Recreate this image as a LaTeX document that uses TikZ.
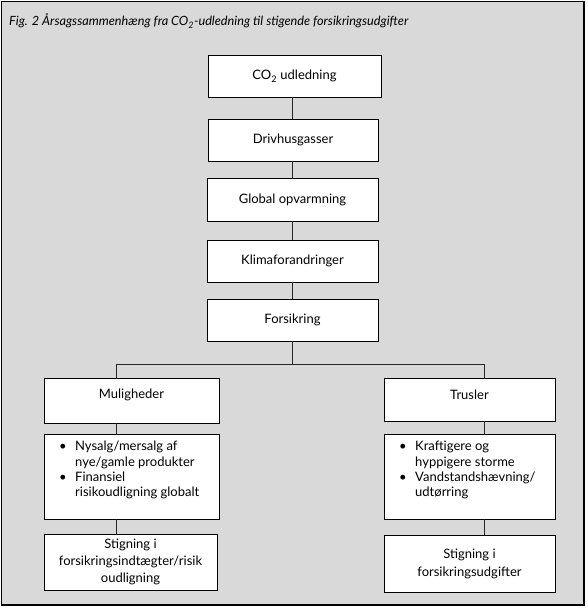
\documentclass[tikz,border=0pt]{standalone}
\usepackage{fontspec}
\setmainfont{Lato}
\usetikzlibrary{calc}
\definecolor{bggray}{HTML}{D9D9D9}
\tikzset{
  box/.style={draw=black, line width=0.9pt, fill=white, inner sep=0pt, font=\fontsize{13}{16}\selectfont},
  conn/.style={draw=black!85, line width=0.9pt},
  txt/.style={inner sep=0pt, font=\fontsize{13}{15}\selectfont},
}
\begin{document}
\begin{tikzpicture}[x=1pt,y=-1pt]
\useasboundingbox (0,0) rectangle (587,608);
\draw[line width=1.2pt, fill=bggray] (1.5,1.5) rectangle (584,605);
\node[txt, anchor=west, font=\fontsize{12.7}{14}\selectfont\itshape] (title) at (9,21) {Fig. 2 Årsagssammenhæng fra CO\textsubscript{2}-udledning til stigende forsikringsudgifter};

\node[box, minimum width=173pt, minimum height=42pt] (co2) at (294.5,76) {CO\textsubscript{2} udledning};
\node[box, minimum width=170pt, minimum height=42pt] (driv) at (293,140) {Drivhusgasser};
\node[box, minimum width=171pt, minimum height=43pt] (glob) at (292.5,199.5) {Global opvarmning};
\node[box, minimum width=171pt, minimum height=42pt] (klima) at (292.5,261) {Klimaforandringer};
\node[box, minimum width=171pt, minimum height=42pt] (fors) at (292.5,320) {Forsikring};

\node[box, minimum width=175pt, minimum height=45pt] (mul) at (131.5,400.5) {};
\node[txt] (multxt) at (131.5,395) {Muligheder};
\node[box, minimum width=175pt, minimum height=85pt] (mulb) at (131.5,476.5) {};
\node[txt, anchor=north west, align=left] (mulbt) at (59,441) {\makebox[16pt][l]{•}Nysalg/mersalg af\\[1pt]\hspace*{16pt}nye/gamle produkter\\\makebox[16pt][l]{•}Finansiel\\\hspace*{16pt}risikoudligning globalt};
\node[box, minimum width=173pt, minimum height=56pt, align=center, font=\fontsize{13}{17}\selectfont] (muls) at (130.5,562) {Stigning i\\forsikringsindtægter/risik\\oudligning};

\node[box, minimum width=171pt, minimum height=43pt] (tru) at (469.5,399.5) {};
\node[txt] (trutxt) at (469.5,395) {Trusler};
\node[box, minimum width=171pt, minimum height=85pt] (trub) at (469.5,476.5) {};
\node[txt, anchor=north west, align=left] (trubt) at (399,441) {\makebox[16pt][l]{•}Kraftigere og\\[1pt]\hspace*{16pt}hyppigere storme\\\makebox[16pt][l]{•}Vandstandshævning/\\\hspace*{16pt}udtørring};
\node[box, minimum width=171pt, minimum height=57pt, align=center, font=\fontsize{13}{18}\selectfont] (trus) at (469.5,563.5) {Stigning i\\forsikringsudgifter};

\coordinate (jm) at (292,364);
\coordinate (jl) at (116,364);
\coordinate (jr) at (484,364);

\draw[conn] (co2.south -| jm) -- (driv.north -| jm);
\draw[conn] (driv.south -| jm) -- (glob.north -| jm);
\draw[conn] (glob.south -| jm) -- (klima.north -| jm);
\draw[conn] (klima.south -| jm) -- (fors.north -| jm);
\draw[conn] (fors.south -| jm) -- (jm);
\draw[conn] (jl) -- (jr);
\draw[conn] (jl) -- (mul.north -| jl);
\draw[conn] (jr) -- (tru.north -| jr);
\draw[conn] (mul.south -| jl) -- (mulb.north -| jl);
\draw[conn] (mulb.south -| jl) -- (muls.north -| jl);
\draw[conn] (tru.south -| jr) -- (trub.north -| jr);
\draw[conn] (trub.south -| jr) -- (trus.north -| jr);
\end{tikzpicture}
\end{document}
